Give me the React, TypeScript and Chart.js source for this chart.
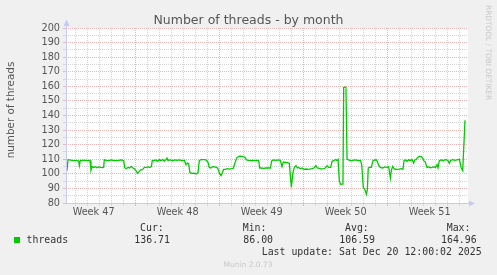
import React, { useEffect, useRef } from "react";
import { Chart, registerables } from "chart.js";

Chart.register(...registerables);

// ---- text ----
const TITLE = "Number of threads - by month";
const Y_TITLE = "number of threads";
const WATERMARK = "RRDTOOL / TOBI OETIKER";
const FOOTER = "Munin 2.0.73";
const LEGEND_NAME = "threads";
const STAT_HEADERS = ["Cur:", "Min:", "Avg:", "Max:"];
const STAT_VALUES = ["136.71", "86.00", "106.59", "164.96"];
const LAST_UPDATE = "Last update: Sat Dec 20 12:00:02 2025";

// ---- axes (x in days from the left edge of the plot) ----
const X_MIN = 0;
const X_MAX = 33.5;
const Y_MIN = 80;
const Y_MAX = 200;
const WEEK_LABELS = ["Week 47", "Week 48", "Week 49", "Week 50", "Week 51"];
const WEEK_LABEL_DAYS = [2.3, 9.3, 16.3, 23.3, 30.3];
const WEEK_START_DAYS = [5.75, 12.75, 19.75, 26.75];
const FIRST_DAY_LINE = 0.75;

// ---- series ----
const DAYS = [
  0.08, 0.17, 0.28, 0.5, 0.72, 0.92, 1.06, 1.11, 1.19, 1.39, 1.61, 1.83, 2.0, 2.08, 2.17, 2.31, 2.44, 2.58, 2.72, 2.89,
  3.06, 3.14, 3.19, 3.33, 3.56, 3.78, 3.97, 4.17, 4.39, 4.61, 4.81, 4.89, 5.0, 5.17, 5.31, 5.44, 5.58, 5.72, 5.83, 5.97,
  6.11, 6.25, 6.39, 6.53, 6.67, 6.83, 6.97, 7.11, 7.19, 7.33, 7.5, 7.64, 7.78, 7.92, 8.06, 8.19, 8.33, 8.42, 8.5, 8.69,
  8.89, 9.06, 9.25, 9.44, 9.67, 9.86, 10.0, 10.11, 10.22, 10.33, 10.5, 10.67, 10.83, 11.0, 11.11, 11.28, 11.47, 11.67, 11.83, 11.94,
  12.06, 12.19, 12.33, 12.5, 12.64, 12.78, 12.92, 13.03, 13.14, 13.28, 13.44, 13.61, 13.78, 13.94, 14.08, 14.22, 14.39, 14.56, 14.72, 14.89,
  15.03, 15.17, 15.36, 15.56, 15.78, 15.94, 16.06, 16.14, 16.28, 16.47, 16.67, 16.89, 17.03, 17.14, 17.31, 17.5, 17.72, 17.86, 18.0, 18.11,
  18.28, 18.44, 18.61, 18.78, 18.92, 19.03, 19.17, 19.28, 19.39, 19.53, 19.67, 19.83, 20.0, 20.17, 20.33, 20.5, 20.67, 20.83, 20.94, 21.11,
  21.28, 21.44, 21.61, 21.75, 21.89, 22.06, 22.17, 22.31, 22.44, 22.58, 22.67, 22.78, 22.89, 23.0, 23.08, 23.14, 23.25, 23.33, 23.42, 23.56,
  23.72, 23.89, 24.11, 24.33, 24.53, 24.64, 24.78, 24.89, 25.03, 25.11, 25.19, 25.28, 25.44, 25.58, 25.72, 25.89, 26.06, 26.19, 26.39, 26.56,
  26.75, 26.89, 27.03, 27.11, 27.22, 27.36, 27.58, 27.78, 27.94, 28.08, 28.17, 28.28, 28.42, 28.56, 28.69, 28.83, 28.97, 29.06, 29.17, 29.31,
  29.44, 29.61, 29.72, 29.81, 29.94, 30.08, 30.22, 30.36, 30.5, 30.64, 30.78, 30.92, 31.0, 31.11, 31.28, 31.42, 31.56, 31.69, 31.83, 31.94,
  32.06, 32.22, 32.39, 32.58, 32.78, 32.94, 33.06, 33.25,
];
const THREADS = [
  102.2, 109.7, 109.5, 109.2, 109.0, 109.0, 108.8, 105.6, 109.0, 109.2, 109.2, 109.0, 109.2, 102.6, 104.9, 104.4, 104.9, 104.2, 104.7, 104.4,
  104.2, 104.4, 109.7, 109.2, 109.0, 109.5, 109.0, 109.0, 109.2, 109.5, 109.0, 104.4, 103.5, 104.4, 104.0, 105.1, 104.0, 103.3, 102.2, 100.5,
  101.7, 102.8, 103.1, 104.4, 104.4, 104.7, 104.4, 104.9, 109.0, 109.0, 109.5, 108.6, 109.7, 109.0, 109.9, 108.6, 109.7, 110.8, 109.2, 109.5,
  109.0, 109.5, 109.2, 109.5, 109.0, 109.2, 106.3, 107.4, 107.0, 100.8, 100.3, 100.5, 99.9, 100.8, 109.2, 109.7, 109.7, 109.5, 108.1, 104.4,
  104.0, 104.7, 104.9, 104.4, 104.0, 100.5, 98.7, 100.8, 103.1, 103.1, 103.5, 103.3, 103.5, 103.8, 107.4, 110.8, 112.0, 112.2, 111.8, 111.5,
  109.7, 109.2, 109.0, 109.2, 109.0, 109.2, 109.0, 104.0, 104.0, 103.8, 104.0, 104.0, 104.0, 108.8, 109.5, 109.2, 109.5, 109.2, 104.9, 108.1,
  107.9, 107.6, 107.2, 90.7, 101.2, 104.4, 105.6, 104.0, 104.4, 103.5, 104.0, 103.1, 103.3, 103.1, 103.3, 103.5, 104.0, 105.6, 104.0, 103.8,
  103.3, 103.5, 104.0, 105.6, 104.4, 104.4, 108.6, 109.0, 109.7, 109.2, 109.9, 94.8, 92.8, 93.0, 93.5, 159.3, 159.6, 159.0, 110.0, 109.5,
  109.0, 109.2, 109.5, 109.0, 109.2, 106.3, 90.3, 89.6, 86.0, 88.9, 104.0, 104.4, 104.4, 109.0, 109.5, 109.5, 105.8, 104.4, 104.0, 104.7,
  104.4, 104.9, 97.1, 102.2, 105.1, 103.3, 103.1, 103.3, 103.5, 103.1, 109.0, 109.5, 108.6, 109.7, 109.0, 109.9, 107.4, 109.5, 109.7, 111.3,
  112.0, 111.8, 110.8, 109.0, 108.1, 104.4, 104.7, 104.2, 104.4, 104.7, 104.4, 106.3, 104.0, 109.0, 109.5, 109.0, 109.5, 109.7, 109.0, 107.2,
  109.2, 109.7, 109.2, 109.5, 109.9, 104.0, 102.2, 136.7,
];

// ---- styles ----
const BG = "#f0f0f0";
const LINE_COLOR = "#00cc00";
const MAJOR_GRID = "#ecb4b4";
const MINOR_GRID = "#d6d6d6";
const AXIS_COLOR = "#c4cbf6";
const TEXT = "#555555";
const LEGEND_TEXT = "#333333";
const FAINT = "#c8c8c8";
const SANS = '"DejaVu Sans", sans-serif';
const MONO = '"DejaVu Sans Mono", monospace';

const dayLines: number[] = [];
for (let d = FIRST_DAY_LINE; d < X_MAX; d += 1) dayLines.push(d);
const isWeekStart = (v: number) => WEEK_START_DAYS.some((w) => Math.abs(w - v) < 1e-6);

const muninPlugin = {
  id: "munin",
  beforeDraw(chart: any) {
    const { ctx, chartArea: a } = chart;
    ctx.save();
    ctx.fillStyle = BG;
    ctx.fillRect(0, 0, chart.width, chart.height);
    ctx.fillStyle = "#ffffff";
    ctx.fillRect(a.left, a.top, a.right - a.left, a.bottom - a.top);
    ctx.restore();
  },
  afterDraw(chart: any) {
    const { ctx, chartArea: a } = chart;
    ctx.save();
    // axes
    ctx.strokeStyle = AXIS_COLOR;
    ctx.fillStyle = AXIS_COLOR;
    ctx.lineWidth = 1;
    const ax = Math.round(a.left) + 0.5;
    const ay = Math.round(a.bottom) + 0.5;
    ctx.beginPath();
    ctx.moveTo(ax, ay);
    ctx.lineTo(ax, a.top - 4);
    ctx.moveTo(a.left, ay);
    ctx.lineTo(a.right + 2, ay);
    ctx.stroke();
    ctx.beginPath();
    ctx.moveTo(ax, a.top - 8.5);
    ctx.lineTo(ax - 3, a.top - 2);
    ctx.lineTo(ax + 3, a.top - 2);
    ctx.closePath();
    ctx.fill();
    ctx.beginPath();
    ctx.moveTo(a.right + 7, ay);
    ctx.lineTo(a.right + 1, ay - 3);
    ctx.lineTo(a.right + 1, ay + 3);
    ctx.closePath();
    ctx.fill();

    // title
    ctx.fillStyle = TEXT;
    ctx.font = `12.5px ${SANS}`;
    ctx.textAlign = "center";
    ctx.textBaseline = "alphabetic";
    ctx.fillText(TITLE, 248.5, 24);

    // y title
    ctx.save();
    ctx.translate(11, 110);
    ctx.rotate(-Math.PI / 2);
    ctx.font = `10.4px ${SANS}`;
    ctx.textAlign = "center";
    ctx.textBaseline = "middle";
    ctx.fillText(Y_TITLE, 0, 0);
    ctx.restore();

    // watermark
    ctx.save();
    ctx.translate(488, 5);
    ctx.rotate(Math.PI / 2);
    ctx.font = `7.4px ${SANS}`;
    ctx.fillStyle = FAINT;
    ctx.textAlign = "left";
    ctx.textBaseline = "middle";
    ctx.fillText(WATERMARK, 0, 0);
    ctx.restore();

    // legend
    ctx.fillStyle = LINE_COLOR;
    ctx.fillRect(14, 237, 6, 6);
    ctx.fillStyle = LEGEND_TEXT;
    ctx.font = `9.9px ${MONO}`;
    ctx.textAlign = "left";
    ctx.textBaseline = "alphabetic";
    ctx.fillText(LEGEND_NAME, 26.5, 243);
    const headerX = [140, 242.7, 345, 446.7];
    const valueX = [134.3, 243.3, 339.3, 441];
    STAT_HEADERS.forEach((h, i) => ctx.fillText(h, headerX[i], 231));
    STAT_VALUES.forEach((v, i) => ctx.fillText(v, valueX[i], 243));
    ctx.fillText(LAST_UPDATE, 261.7, 255);

    // footer
    ctx.fillStyle = FAINT;
    ctx.font = `7.5px ${SANS}`;
    ctx.textAlign = "center";
    ctx.fillText(FOOTER, 248, 266.5);
    ctx.restore();
  },
};

export default function App() {
  const ref = useRef<HTMLCanvasElement | null>(null);

  useEffect(() => {
    if (!ref.current) return;
    const chart = new Chart(ref.current, {
      type: "line",
      data: {
        datasets: [
          {
            data: DAYS.map((d, i) => ({ x: d, y: THREADS[i] })),
            borderColor: LINE_COLOR,
            borderWidth: 1.3,
            pointRadius: 0,
            fill: false,
            tension: 0,
            xAxisID: "x",
            yAxisID: "y",
          },
        ],
      },
      options: {
        animation: false,
        responsive: false,
        devicePixelRatio: 1,
        layout: { padding: { top: 28, right: 29, bottom: 52, left: 0 } },
        plugins: {
          legend: { display: false },
          tooltip: { enabled: false },
          title: { display: false },
        },
        scales: {
          x: {
            type: "linear",
            position: "bottom",
            weight: 0,
            min: X_MIN,
            max: X_MAX,
            afterBuildTicks: (s: any) => {
              s.ticks = dayLines.map((v) => ({ value: v }));
            },
            afterFit: (s: any) => {
              s.height = 0;
            },
            ticks: { display: false },
            grid: {
              color: (c: any) => (isWeekStart(c.tick.value) ? MAJOR_GRID : MINOR_GRID),
              lineWidth: 1,
              drawTicks: true,
              tickLength: 3,
            },
            border: { display: false, dash: [1, 1] },
          },
          x2: {
            type: "linear",
            position: "bottom",
            weight: 1,
            min: X_MIN,
            max: X_MAX,
            afterBuildTicks: (s: any) => {
              s.ticks = WEEK_LABEL_DAYS.map((v) => ({ value: v }));
            },
            afterFit: (s: any) => {
              s.height = 20;
            },
            ticks: {
              autoSkip: false,
              maxRotation: 0,
              padding: 4,
              color: TEXT,
              font: { family: SANS, size: 9.7 },
              callback: (_v: any, i: number) => WEEK_LABELS[i],
            },
            grid: { display: false, drawTicks: false },
            border: { display: false },
          },
          y: {
            type: "linear",
            position: "left",
            min: Y_MIN,
            max: Y_MAX,
            afterFit: (s: any) => {
              s.width = 66;
            },
            ticks: {
              stepSize: 5,
              autoSkip: false,
              padding: 3,
              color: TEXT,
              font: { family: SANS, size: 9.7 },
              callback: (v: any) => (Number(v) % 10 === 0 ? String(v) : ""),
            },
            grid: {
              color: (c: any) => (c.tick && c.tick.value % 10 === 0 ? MAJOR_GRID : MINOR_GRID),
              lineWidth: 1,
              drawTicks: true,
              tickLength: 3,
            },
            border: { display: false, dash: [1, 1] },
          },
        },
      },
      plugins: [muninPlugin],
    } as any);
    return () => chart.destroy();
  }, []);

  return (
    <div style={{ position: "fixed", left: 0, top: 0, width: 497, height: 275, background: BG }}>
      <canvas ref={ref} width={497} height={275} style={{ width: 497, height: 275, display: "block" }} />
    </div>
  );
}
